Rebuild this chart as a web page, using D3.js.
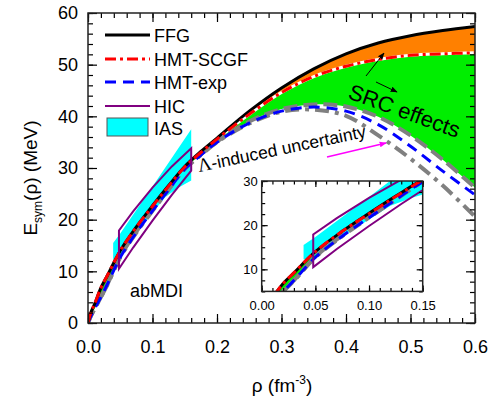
<!DOCTYPE html>
<html><head><meta charset="utf-8">
<script src="https://cdn.jsdelivr.net/npm/d3@7"></script>
<style>body{margin:0;background:#fff}svg{display:block}text{font-family:Arial,"Liberation Sans",sans-serif}</style>
</head><body><svg id="c" width="491" height="399"></svg>
<script>
// ---- data ----
const rho      = [0,0.005,0.01,0.02,0.03,0.05,0.075,0.1,0.125,0.15,0.175,0.2,0.25,0.3,0.35,0.4,0.45,0.5,0.55,0.6];
const ffg      = [0,2.2,3.6,6.8,9.2,14.0,18.6,22.7,26.6,30.3,33.2,35.8,41.0,45.5,49.2,52.1,54.2,55.6,56.6,57.4];
const hmtScgf  = [0,2.2,3.6,6.8,9.2,14.0,18.6,22.6,26.5,30.2,33.0,35.6,40.4,44.6,47.7,49.7,51.0,51.8,52.1,52.3];
const hmtExp   = [0,1.5,2.7,5.0,7.5,12.7,17.5,21.7,25.8,29.8,32.5,35.0,38.7,41.0,41.8,41.0,38.4,34.2,29.4,24.8];
const lamUpper = [0,1.5,2.7,5.0,7.5,12.8,17.7,21.9,26.0,29.9,32.6,35.1,39.0,41.4,42.3,41.9,39.9,36.3,31.6,26.2];
const lamLower = [0,1.5,2.7,5.0,7.4,12.7,17.5,21.7,25.8,29.8,32.5,35.0,38.6,40.9,41.3,40.1,36.3,31.8,26.6,20.6];
const iasRho   = [0.039,0.039,0.05,0.1,0.16,0.16,0.14,0.12,0.1,0.07,0.05,0.045];
const iasE     = [12.3,15.5,17.3,26.4,37.5,27.6,26.2,24.4,21.3,16.6,13.3,12.3];
const hicRho   = [0.048,0.048,0.07,0.1,0.13,0.16,0.16,0.13,0.1,0.07];
const hicE     = [10.5,17.9,21.6,26.2,30.3,33.8,29.5,24.8,19.8,14.6];
const xTicks   = [0,0.1,0.2,0.3,0.4,0.5,0.6];
const yTicks   = [0,10,20,30,40,50,60];
const xiTicks  = [0,0.05,0.1,0.15];
const yiTicks  = [10,20,30];
const legendNames = ["FFG","HMT-SCGF","HMT-exp","HIC","IAS"];

const svg = d3.select("#c");
const x = d3.scaleLinear([0,0.6],[88,475]);
const y = d3.scaleLinear([0,60],[323,13]);
const xi = d3.scaleLinear([0,0.15],[261.7,422.7]);
const yi = d3.scaleLinear([5,30],[291.4,181]);

const pts = arr => rho.map((r,i)=>[r,arr[i]]);
const defs = svg.append("defs");
defs.append("clipPath").attr("id","cm").append("rect").attr("x",88).attr("y",13).attr("width",387).attr("height",310);
defs.append("clipPath").attr("id","ci").append("rect").attr("x",261.7).attr("y",181).attr("width",161).attr("height",110.4);
function marker(id,color){
  defs.append("marker").attr("id",id).attr("viewBox","0 0 10 10").attr("refX",9).attr("refY",5)
   .attr("markerWidth",7).attr("markerHeight",7).attr("markerUnits","userSpaceOnUse").attr("orient","auto")
   .append("path").attr("d","M0,1L10,5L0,9Z").attr("fill",color);
}
marker("ak","#000"); marker("am","#ff00ff");

const styles = {
  ffg:{stroke:"#000",w:3,dash:null},
  scgf:{stroke:"#ff0000",w:3,dash:"11,4,3,4"},
  exp:{stroke:"#0000ff",w:3,dash:"11,7"},
  lu:{stroke:"#808080",w:4,dash:"14,6"},
  ll:{stroke:"#808080",w:4,dash:"14,6,4,6"}
};

function drawPanel(g, xs, ys, clip){
  const cur = d3.curveCatmullRom.alpha(0.5);
  const area = (a,b)=>d3.area().x((d,i)=>xs(rho[i])).y0((d,i)=>ys(b[i])).y1((d,i)=>ys(a[i])).curve(cur);
  const line = d3.line().x(d=>xs(d[0])).y(d=>ys(d[1])).curve(cur);
  const gg = g.append("g").attr("clip-path",`url(#${clip})`);
  gg.append("path").datum(rho).attr("d",area(ffg,hmtScgf)).attr("fill","#ff8000");
  gg.append("path").datum(rho).attr("d",area(hmtScgf,lamUpper)).attr("fill","#00ee00");
  const poly = (rs,es)=> "M"+rs.map((r,i)=>xs(r)+","+ys(es[i])).join("L")+"Z";
  gg.append("path").attr("d",poly(iasRho,iasE)).attr("fill","#00ffff");
  const hi = pts(hmtScgf).filter(d=>d[0]>=0.2);
  gg.append("path").datum(hi).attr("d",line).attr("fill","none").attr("stroke","#fff").attr("stroke-width",3);
  const series = [[lamLower,styles.ll],[lamUpper,styles.lu],[hmtExp,styles.exp],[ffg,styles.ffg],[hmtScgf,styles.scgf]];
  series.forEach(([a,s])=>{
    gg.append("path").datum(pts(a)).attr("d",line).attr("fill","none").attr("stroke",s.stroke)
      .attr("stroke-width",s.w).attr("stroke-dasharray",s.dash);
  });
  gg.append("path").attr("d",poly(hicRho,hicE)).attr("fill","none").attr("stroke","#800080").attr("stroke-width",2);
}

function frame(g, xs, ys, xt, yt, xminor, yminor, maj, min, fs, padX, padY, xfmt, yfmt){
  const [x0,x1]=xs.range(), [y0,y1]=ys.range();
  const mk = (axis, tr, ticks, size, fmt, pad)=>{
    const a = g.append("g").attr("transform",tr).call(axis.tickValues(ticks).tickSize(-size).tickSizeOuter(0).tickPadding(pad||3).tickFormat(fmt||""));
    a.select(".domain").remove();
    a.selectAll("line").attr("stroke","#000").attr("stroke-width",1.2);
    a.selectAll("text").attr("font-size",fs).attr("fill","#000").attr("font-family",'Arial,"Liberation Sans",sans-serif');
    return a;
  };
  mk(d3.axisBottom(xs),`translate(0,${y0})`,xminor,min);
  mk(d3.axisTop(xs),`translate(0,${y1})`,xminor,min);
  mk(d3.axisLeft(ys),`translate(${x0},0)`,yminor,min);
  mk(d3.axisRight(ys),`translate(${x1},0)`,yminor,min);
  mk(d3.axisBottom(xs),`translate(0,${y0})`,xt,maj,xfmt,padX);
  mk(d3.axisTop(xs),`translate(0,${y1})`,xt,maj);
  mk(d3.axisLeft(ys),`translate(${x0},0)`,yt,maj,yfmt,padY);
  mk(d3.axisRight(ys),`translate(${x1},0)`,yt,maj);
  g.append("rect").attr("x",x0).attr("y",y1).attr("width",x1-x0).attr("height",y0-y1)
    .attr("fill","none").attr("stroke","#222").attr("stroke-width",1.5);
}

// main panel
const main = svg.append("g");
drawPanel(main, x, y, "cm");
const range = (a,b,s)=>d3.range(Math.round((b-a)/s)+1).map(i=>+(a+i*s).toFixed(4));
frame(main, x, y, xTicks, yTicks, range(0,0.6,0.02), range(0,60,2), 9, 5, 18, 17, 10, d3.format(".1f"), d3.format("d"));

// inset
const ins = svg.append("g");
ins.append("rect").attr("x",261.7).attr("y",181).attr("width",161).attr("height",110.4).attr("fill","#fff");
drawPanel(ins, xi, yi, "ci");
frame(ins, xi, yi, xiTicks, yiTicks, range(0,0.15,0.01), range(5,30,2.5), 6, 3.5, 13, 9, 4, d3.format(".2f"), d3.format("d"));

// legend
const lg = svg.append("g");
const ly = [35,59,82,106];
const ls = [styles.ffg,styles.scgf,styles.exp,{stroke:"#800080",w:2,dash:null}];
ls.forEach((s,i)=>{
  lg.append("line").attr("x1",105).attr("x2",150).attr("y1",ly[i]).attr("y2",ly[i])
    .attr("stroke",s.stroke).attr("stroke-width",s.w).attr("stroke-dasharray",s.dash);
  lg.append("text").attr("x",154).attr("y",ly[i]+6.5).attr("font-size",18).text(legendNames[i]);
});
lg.append("rect").attr("x",107).attr("y",118).attr("width",41).attr("height",18).attr("fill","#00ffff").attr("stroke","#555").attr("stroke-width",1);
lg.append("text").attr("x",154).attr("y",135).attr("font-size",18).text(legendNames[4]);

// annotations
svg.append("text").attr("x",130).attr("y",297).attr("font-size",18).text("abMDI");
const lt = svg.append("text").attr("transform","translate(199,172) rotate(-11.8)").attr("font-size",17.5);
lt.append("tspan").attr("font-family",'"Liberation Serif","Times New Roman",serif').attr("font-size",19).text("Λ");
lt.append("tspan").text("-induced uncertainty");
svg.append("text").attr("transform","translate(347,98) rotate(20)").attr("font-size",22).text("SRC effects");
svg.append("line").attr("x1",327).attr("y1",157).attr("x2",386).attr("y2",143).attr("stroke","#ff00ff").attr("stroke-width",1.5).attr("marker-end","url(#am)");
svg.append("line").attr("x1",366).attr("y1",76).attr("x2",384).attr("y2",53).attr("stroke","#000").attr("stroke-width",1).attr("marker-end","url(#ak)");
svg.append("line").attr("x1",376).attr("y1",82).attr("x2",397).attr("y2",92).attr("stroke","#000").attr("stroke-width",1).attr("marker-end","url(#ak)");

// axis titles
const xt = svg.append("text").attr("x",282).attr("y",392).attr("text-anchor","middle").attr("font-size",19);
xt.append("tspan").text("ρ (fm");
xt.append("tspan").attr("dy",-8).attr("font-size",12).text("-3");
xt.append("tspan").attr("dy",8).text(")");
const yt = svg.append("text").attr("transform","translate(37,178) rotate(-90)").attr("text-anchor","middle").attr("font-size",19);
yt.append("tspan").text("E");
yt.append("tspan").attr("dy",5).attr("font-size",12).text("sym");
yt.append("tspan").attr("dy",-5).text("(ρ) (MeV)");
</script></body></html>
